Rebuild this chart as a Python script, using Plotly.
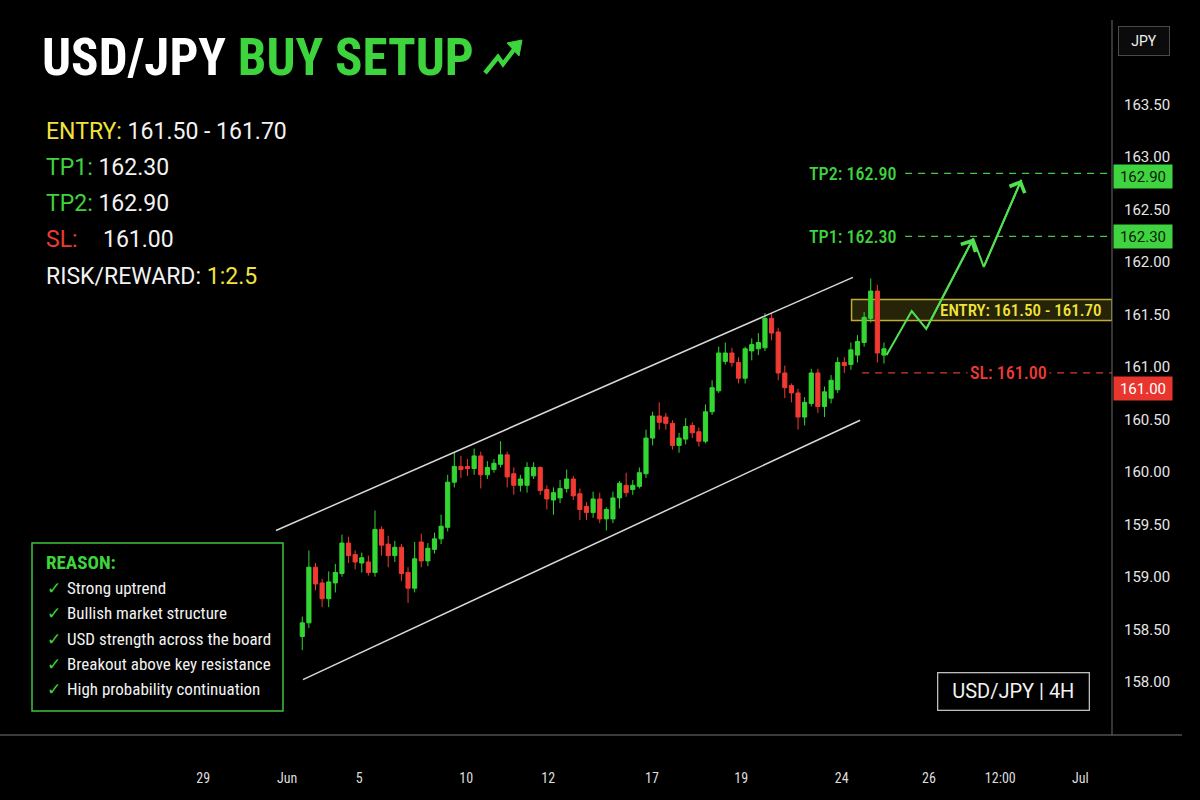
import plotly.graph_objects as go

# ---------------- data ----------------
candle_idx = list(range(1, 90))
opens = [158.49, 158.62, 159.15, 159.00, 158.85, 159.00, 159.09, 159.38, 159.27, 159.19,
         159.20, 159.10, 159.51, 159.37, 159.26, 159.34, 159.10, 158.95, 159.39, 159.21,
         159.32, 159.42, 159.53, 159.96, 160.11, 160.11, 160.09, 160.21, 160.03, 160.08,
         160.13, 160.22, 160.04, 159.93, 159.93, 160.02, 160.10, 159.89, 159.79, 159.81,
         159.90, 159.99, 159.85, 159.73, 159.67, 159.80, 159.61, 159.61, 159.81, 159.93,
         159.89, 159.92, 160.04, 160.38, 160.59, 160.58, 160.52, 160.31, 160.37, 160.50,
         160.44, 160.35, 160.63, 160.83, 161.11, 161.19, 161.10, 160.95, 161.21, 161.23,
         161.24, 161.52, 161.39, 161.00, 160.88, 160.81, 160.58, 160.71, 161.00, 160.68,
         160.76, 160.84, 161.10, 161.08, 161.17, 161.29, 161.52, 161.78, 161.17]
highs = [158.68, 159.31, 159.19, 159.04, 159.11, 159.18, 159.46, 159.44, 159.31, 159.29,
         159.26, 159.69, 159.54, 159.45, 159.40, 159.37, 159.15, 159.39, 159.47, 159.38,
         159.48, 159.65, 160.03, 160.24, 160.21, 160.18, 160.28, 160.25, 160.16, 160.18,
         160.35, 160.25, 160.10, 160.03, 160.15, 160.15, 160.11, 159.93, 159.91, 159.98,
         160.08, 160.02, 159.90, 159.77, 159.87, 159.86, 159.72, 159.87, 159.97, 160.05,
         159.98, 160.10, 160.46, 160.63, 160.72, 160.62, 160.55, 160.43, 160.57, 160.53,
         160.48, 160.70, 160.93, 161.25, 161.29, 161.24, 161.15, 161.25, 161.33, 161.38,
         161.57, 161.57, 161.43, 161.07, 160.90, 160.85, 160.77, 161.04, 161.04, 160.87,
         160.98, 161.15, 161.15, 161.29, 161.36, 161.58, 161.90, 161.84, 161.29]
lows = [158.36, 158.57, 158.93, 158.77, 158.77, 158.91, 159.06, 159.19, 159.13, 159.10,
        159.07, 159.06, 159.26, 159.15, 159.20, 159.02, 158.81, 158.91, 159.15, 159.16,
        159.28, 159.37, 159.49, 159.91, 160.00, 160.02, 160.03, 159.90, 159.99, 160.05,
        160.10, 159.91, 159.84, 159.87, 159.86, 159.99, 159.84, 159.70, 159.65, 159.76,
        159.86, 159.79, 159.60, 159.60, 159.62, 159.57, 159.50, 159.57, 159.71, 159.82,
        159.84, 159.90, 160.00, 160.31, 160.46, 160.46, 160.27, 160.24, 160.32, 160.38,
        160.30, 160.33, 160.60, 160.81, 161.08, 161.06, 160.90, 160.90, 161.12, 161.17,
        161.21, 161.31, 160.93, 160.76, 160.72, 160.46, 160.50, 160.68, 160.62, 160.58,
        160.71, 160.81, 161.00, 161.03, 161.10, 161.25, 161.48, 161.10, 161.09]
closes = [158.62, 159.15, 158.99, 158.85, 159.01, 159.10, 159.38, 159.26, 159.20, 159.24,
          159.10, 159.51, 159.36, 159.26, 159.34, 159.09, 158.95, 159.23, 159.21, 159.33,
          159.42, 159.54, 159.96, 160.11, 160.08, 160.09, 160.21, 160.03, 160.10, 160.14,
          160.22, 160.01, 159.93, 159.99, 160.10, 160.10, 159.88, 159.80, 159.86, 159.90,
          159.99, 159.83, 159.70, 159.67, 159.80, 159.61, 159.70, 159.81, 159.95, 159.86,
          159.93, 160.05, 160.38, 160.59, 160.53, 160.52, 160.31, 160.38, 160.49, 160.43,
          160.35, 160.63, 160.86, 161.19, 161.19, 161.10, 160.95, 161.23, 161.27, 161.29,
          161.52, 161.38, 161.00, 160.86, 160.81, 160.58, 160.72, 161.00, 160.68, 160.82,
          160.93, 161.10, 161.07, 161.22, 161.30, 161.53, 161.78, 161.19, 161.23]

channel_upper_x = [-2.98, 84.3]
channel_upper_y = [159.50, 161.91]
channel_lower_x = [1.1, 85.4]
channel_lower_y = [158.08, 160.55]

projection_x = [89.4, 93.2, 95.4, 102.5, 104.1, 109.8]
projection_y = [161.17, 161.59, 161.42, 162.28, 162.01, 162.84]

ENTRY_LOW, ENTRY_HIGH = 161.50, 161.70
TP1, TP2, SL = 162.30, 162.90, 161.00
RISK_REWARD = "1:2.5"

y_ticks = [158.00, 158.50, 159.00, 159.50, 160.00, 160.50, 161.00, 161.50, 162.00, 162.50, 163.00, 163.50]
x_tick_pos = [-14.0, -1.3, 9.6, 25.8, 38.2, 53.9, 67.4, 82.6, 95.8, 106.6, 118.7]
x_tick_labels = ["29", "Jun", "5", "10", "12", "17", "19", "24", "26", "12:00", "Jul"]

reasons = ["Strong uptrend", "Bullish market structure", "USD strength across the board",
           "Breakout above key resistance", "High probability continuation"]

# ---------------- style ----------------
W, H = 1200, 800
PL, PR, PT, PB = 0, 88, 0, 65
PW, PH = W - PL - PR, H - PT - PB
X_RANGE = [-44.73, 123.5]
Y_RANGE = [157.552, 164.552]

GREEN = "#3ed43e"
CGREEN = "#33d633"
CRED = "#f03a32"
RED = "#ec3b35"
YELLOW = "#f2e33c"
WHITE = "#f2f2f2"
FONT = "Roboto"


def px(x):
    return (x - PL) / PW


def py(y):
    return 1 - (y - PT) / PH


def cond(t):
    return f"<span style='font-stretch:condensed'>{t}</span>"


def note(x, y, text, xanchor="left", **kw):
    fig.add_annotation(xref="paper", yref="paper", x=px(x), y=py(y), xanchor=xanchor, yanchor="middle",
                       showarrow=False, text=text, **kw)


fig = go.Figure()

fig.add_trace(go.Candlestick(
    x=candle_idx, open=opens, high=highs, low=lows, close=closes,
    increasing=dict(line=dict(color=CGREEN, width=1), fillcolor=CGREEN),
    decreasing=dict(line=dict(color=CRED, width=1), fillcolor=CRED),
    whiskerwidth=0, hoverinfo="skip", showlegend=False))

for cx, cy in ((channel_upper_x, channel_upper_y), (channel_lower_x, channel_lower_y)):
    fig.add_trace(go.Scatter(x=cx, y=cy, mode="lines", line=dict(color="#d8d8d8", width=1.5),
                             hoverinfo="skip", showlegend=False))

fig.add_trace(go.Scatter(x=projection_x, y=projection_y, mode="lines",
                         line=dict(color="#52e052", width=2), hoverinfo="skip", showlegend=False))
for k in (3, 5):
    fig.add_annotation(x=projection_x[k], y=projection_y[k], ax=projection_x[k - 1], ay=projection_y[k - 1],
                       xref="x", yref="y", axref="x", ayref="y", text="", showarrow=True,
                       arrowhead=4, arrowsize=1.6, arrowwidth=2, arrowcolor="#52e052")

# ---- entry zone ----
fig.add_shape(type="rect", xref="x", yref="y", x0=84.1, x1=X_RANGE[1], y0=ENTRY_LOW, y1=ENTRY_HIGH,
              fillcolor="rgba(190,180,40,0.20)", line=dict(color="#bfae32", width=1.5), layer="below")
fig.add_annotation(xref="paper", yref="y", x=px(1103), y=(ENTRY_LOW + ENTRY_HIGH) / 2, xanchor="right",
                   yanchor="middle", showarrow=False, text=cond(f"ENTRY: {ENTRY_LOW:.2f} - {ENTRY_HIGH:.2f}"),
                   font=dict(family=FONT, size=17, color=YELLOW, weight=500))

# ---- TP levels ----
for name, lvl in (("TP2", TP2), ("TP1", TP1)):
    fig.add_shape(type="line", xref="x", yref="y", x0=92.2, x1=X_RANGE[1], y0=lvl, y1=lvl,
                  line=dict(color="#45c845", width=1.3, dash="7px,6px"))
    fig.add_annotation(xref="x", yref="y", x=91.1, y=lvl, xanchor="right", yanchor="middle", showarrow=False,
                       text=cond(f"{name}: {lvl:.2f}"), font=dict(family=FONT, size=18, color=GREEN, weight=500))
    fig.add_annotation(xref="paper", yref="y", x=px(1113), y=lvl, xanchor="left", yanchor="middle",
                       showarrow=False, yshift=-3 if name == "TP2" else 0,
                       text=f"{lvl:.2f}", font=dict(family=FONT, size=15, color="#0c200c"),
                       bgcolor="#3fd43f", width=52, height=17, borderpad=3)

# ---- SL ----
fig.add_shape(type="line", xref="x", yref="y", x0=85.7, x1=X_RANGE[1], y0=SL, y1=SL,
              line=dict(color="#d83a34", width=1.3, dash="7px,6px"))
fig.add_annotation(xref="paper", yref="y", x=px(1008), y=SL, xanchor="center", yanchor="middle",
                   showarrow=False, text=cond(f"SL: {SL:.2f}"),
                   font=dict(family=FONT, size=18, color=RED, weight=500), bgcolor="black", borderpad=2)
fig.add_annotation(xref="paper", yref="y", x=px(1113), y=SL, xanchor="left", yanchor="middle", showarrow=False,
                   yshift=-16, text=f"{SL:.2f}", font=dict(family=FONT, size=15, color="white"),
                   bgcolor="#e8362f", width=52, height=17, borderpad=3)

# ---- frame lines ----
fig.add_shape(type="line", xref="paper", yref="paper", x0=px(1112), x1=px(1112), y0=py(20), y1=py(735),
              line=dict(color="#6a6a6a", width=1))
fig.add_shape(type="line", xref="paper", yref="paper", x0=px(0), x1=px(1182), y0=py(735), y1=py(735),
              line=dict(color="#777777", width=1.2))

# ---- JPY tag ----
note(1143.5, 41.5, "JPY", xanchor="center", font=dict(family=FONT, size=14, color=WHITE),
     width=44, height=22, borderpad=3, bordercolor="#4a4a4a", borderwidth=1, bgcolor="#0b0b0b")

# ---- title ----
note(40, 57, cond(f"<b>USD/JPY <span style='color:{GREEN}'>BUY SETUP</span></b>"),
     font=dict(family=FONT, size=51, color="white"))
icon = [(485, 73), (498, 57), (503, 64), (516, 47)]
path = "M " + " L ".join(f"{px(a):.5f},{py(b):.5f}" for a, b in icon)
fig.add_shape(type="path", xref="paper", yref="paper", path=path, line=dict(color=GREEN, width=4.5))
head = [(522, 40), (507, 43), (519, 56)]
path = "M " + " L ".join(f"{px(a):.5f},{py(b):.5f}" for a, b in head) + " Z"
fig.add_shape(type="path", xref="paper", yref="paper", path=path, line=dict(color=GREEN, width=1),
              fillcolor=GREEN)

# ---- setup summary ----
summary = [
    (131, f"<span style='color:{YELLOW}'>ENTRY:</span> {ENTRY_LOW:.2f} - {ENTRY_HIGH:.2f}", None),
    (167, f"<span style='color:{GREEN}'>TP1:</span> {TP1:.2f}", None),
    (203, f"<span style='color:{GREEN}'>TP2:</span> {TP2:.2f}", None),
    (239, f"<span style='color:{RED}'>SL:</span>", f"{SL:.2f}"),
    (276, f"RISK/REWARD: <span style='color:{YELLOW}'>{RISK_REWARD}</span>", None),
]
for yy, txt, extra in summary:
    note(44, yy, txt, font=dict(family=FONT, size=23, color=WHITE))
    if extra:
        note(101, yy, extra, font=dict(family=FONT, size=23, color=WHITE))

# ---- reason box ----
fig.add_shape(type="rect", xref="paper", yref="paper", x0=px(32), x1=px(283), y0=py(543), y1=py(711),
              line=dict(color="#3cc43c", width=1.5), fillcolor="black")
note(44, 562, cond("<b>REASON:</b>"), font=dict(family=FONT, size=19, color=GREEN))
for i, r in enumerate(reasons):
    yy = 588 + i * 25.3
    note(45, yy, "✓", font=dict(family="DejaVu Sans", size=17, color=GREEN))
    note(65, yy, cond(r), font=dict(family=FONT, size=17, color=WHITE))

# ---- pair / timeframe box ----
note(1013, 691, "USD/JPY | 4H", xanchor="center", font=dict(family=FONT, size=20, color=WHITE),
     width=146, height=32, borderpad=2, bordercolor="#bdbdbd", borderwidth=1.3, bgcolor="black")

fig.update_layout(
    width=W, height=H, margin=dict(l=PL, r=PR, t=PT, b=PB),
    paper_bgcolor="black", plot_bgcolor="black", showlegend=False, hovermode=False,
    font=dict(family=FONT, color=WHITE), boxgap=0.1,
    xaxis=dict(range=X_RANGE, rangeslider=dict(visible=False), showgrid=False, zeroline=False,
               showline=False, tickmode="array", tickvals=x_tick_pos,
               ticktext=[cond(t) for t in x_tick_labels], ticks="", ticklabelstandoff=33,
               tickfont=dict(family=FONT, size=14, color="#dddddd"), fixedrange=True),
    yaxis=dict(range=Y_RANGE, side="right", showgrid=False, zeroline=False, showline=False,
               tickmode="array", tickvals=y_ticks, ticktext=[f"{v:.2f}" for v in y_ticks],
               ticks="", ticklabelstandoff=11, ticklabelshift=-6,
               tickfont=dict(family=FONT, size=15, color="#e6e6e6"), fixedrange=True),
)

fig.write_html("out.html")
